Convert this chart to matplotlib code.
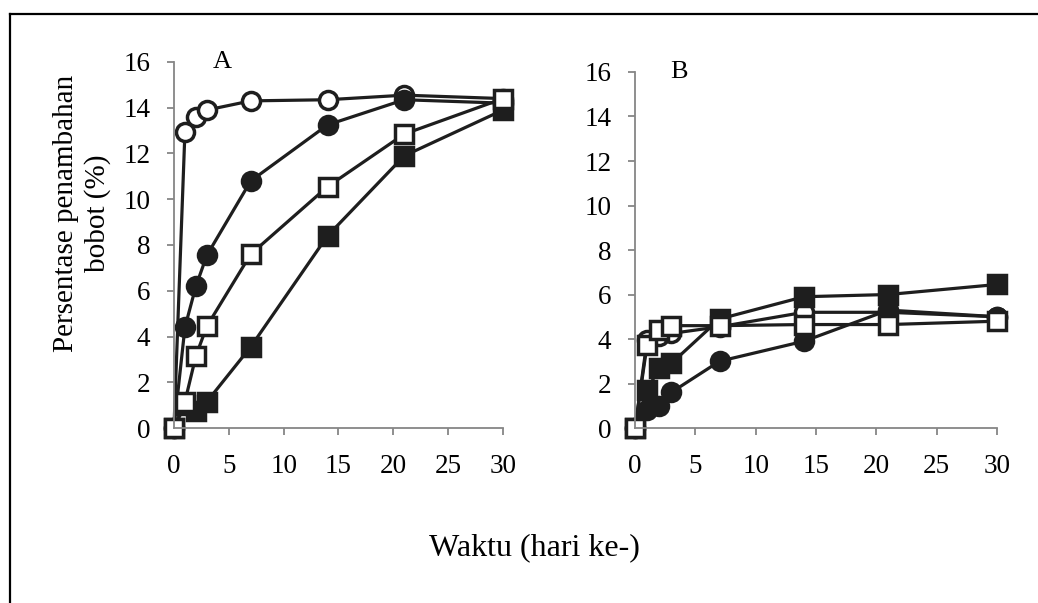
import matplotlib.pyplot as plt
from matplotlib.lines import Line2D

plt.rcParams['font.family'] = ['Liberation Serif', 'DejaVu Serif']

hari = [0, 1, 2, 3, 7, 14, 21, 30]

# panel A
a_bulat_putih = [0, 12.95, 13.6, 13.9, 14.3, 14.35, 14.55, 14.4]
a_bulat_hitam = [0, 4.4, 6.2, 7.55, 10.8, 13.25, 14.35, 14.2]
a_kotak_hitam = [0, 1.0, 0.75, 1.15, 3.55, 8.4, 11.9, 13.9]
a_kotak_putih = [0, 1.15, 3.15, 4.45, 7.6, 10.55, 12.85, 14.4]

# panel B
b_bulat_putih = [0, 3.95, 4.15, 4.25, 4.55, 5.2, 5.2, 5.0]
b_bulat_hitam = [0, 0.8, 1.0, 1.6, 3.0, 3.9, 5.3, 5.0]
b_kotak_hitam = [0, 1.7, 2.7, 2.9, 4.9, 5.9, 6.0, 6.45]
b_kotak_putih = [0, 3.75, 4.4, 4.6, 4.6, 4.65, 4.65, 4.8]

hitam = '#1e1e1e'
abu = '#868686'

fig = plt.figure(figsize=(10.38, 6.03), dpi=100)
axA = fig.add_axes([0.1676, 0.2902, 0.317, 0.607])
axB = fig.add_axes([0.6118, 0.2902, 0.3487, 0.5904])


def gambar(ax, putih_o, hitam_o, hitam_s, putih_s, huruf, xh):
    gaya = dict(color=hitam, lw=2.3, ms=13, mew=2.5, mec=hitam, clip_on=False)
    ax.plot(hari, putih_o, marker='o', mfc='white', **gaya)
    ax.plot(hari, hitam_o, marker='o', mfc=hitam, **gaya)
    ax.plot(hari, hitam_s, marker='s', mfc=hitam, **gaya)
    ax.plot(hari, putih_s, marker='s', mfc='white', **gaya)
    ax.set_xlim(0, 30)
    ax.set_ylim(0, 16)
    ax.set_xticks(range(0, 31, 5))
    ax.set_yticks(range(0, 17, 2))
    for s in ['top', 'right']:
        ax.spines[s].set_visible(False)
    for s in ['left', 'bottom']:
        ax.spines[s].set_color(abu)
        ax.spines[s].set_linewidth(1.3)
    ax.tick_params(direction='out', length=5, width=1.3, color=abu,
                   labelsize=19.5, labelcolor='black')
    ax.tick_params(axis='y', pad=12)
    ax.tick_params(axis='x', pad=14)
    ax.set_facecolor('none')
    ax.text(xh, 16, huruf, fontsize=19, ha='center', va='center')


gambar(axA, a_bulat_putih, a_bulat_hitam, a_kotak_hitam, a_kotak_putih, 'A', 4.4)
gambar(axB, b_bulat_putih, b_bulat_hitam, b_kotak_hitam, b_kotak_putih, 'B', 3.6)

fig.text(82 / 1038, 1 - 213 / 603, 'Persentase penambahan\nbobot (%)', rotation=90,
         ha='center', va='center', multialignment='center', fontsize=21)
fig.text(534 / 1038, 1 - 548 / 603, 'Waktu (hari ke-)', ha='center', va='center',
         fontsize=23)

# bingkai
xk = 10 / 1038
yt = 1 - 14 / 603
fig.add_artist(Line2D([xk, 1], [yt, yt], color='black', lw=1.6))
fig.add_artist(Line2D([xk, xk], [0, yt], color='black', lw=1.6))

fig.savefig('out.png', dpi=100)
